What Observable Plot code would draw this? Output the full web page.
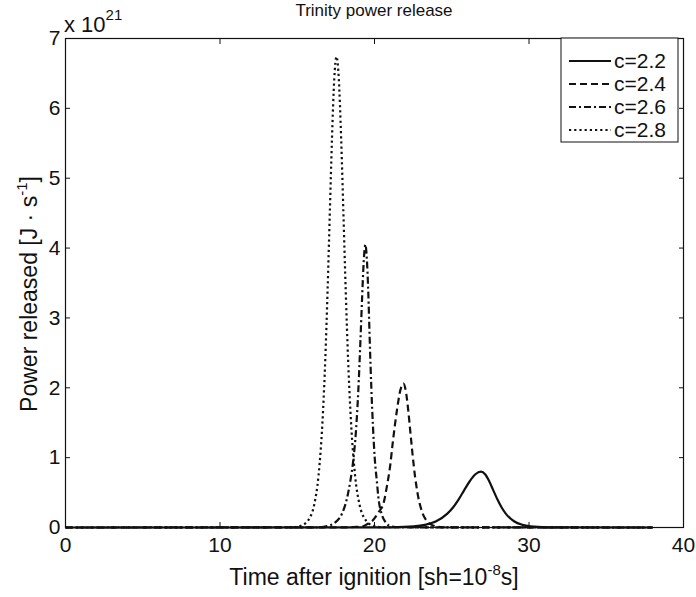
<!DOCTYPE html>
<html><head><meta charset="utf-8">
<script src="https://cdn.jsdelivr.net/npm/d3@7"></script>
<script src="https://cdn.jsdelivr.net/npm/@observablehq/plot@0.6"></script>
<style>
html,body{margin:0;padding:0;background:#fff;}
#chart{position:relative;width:696px;height:597px;}
</style></head><body><div id="chart"></div>
<script>
const seriesNames = ["c=2.2", "c=2.4", "c=2.6", "c=2.8"];
const xTicks = [0, 10, 20, 30, 40];
const yTicks = [0, 1, 2, 3, 4, 5, 6, 7];

const t22 = [0,19.64,21.09,22.54,23.265,23.99,24.715,25.08,25.44,25.80,26.165,26.53,26.89,27.16,27.425,27.69,27.96,28.23,28.495,29.03,29.565,30.1,31.17,32.24,38];
const p22 = [0,0.0005,0.003,0.016,0.038,0.089,0.199,0.286,0.40,0.532,0.662,0.762,0.80,0.762,0.662,0.532,0.40,0.286,0.199,0.089,0.038,0.016,0.003,0.0005,0];

const t24 = [0,17.87,18.67,19.3,19.47,19.87,20.27,20.6,20.81,21.0,21.2,21.47,21.67,21.87,22.02,22.17,22.32,22.47,22.62,22.77,23.07,23.37,23.67,24.27,24.87,38];
const p24 = [0,0.001,0.007,0.02,0.041,0.098,0.22,0.36,0.6,0.86,1.25,1.706,1.963,2.06,1.963,1.706,1.37,1.03,0.737,0.512,0.229,0.098,0.041,0.007,0.001,0];

const t26 = [0,16.2,16.7,17.1,17.5,17.9,18.2,18.44,18.62,18.80,18.95,19.09,19.20,19.30,19.41,19.50,19.60,19.69,19.79,19.90,20.01,20.17,20.24,20.47,20.70,21.03,21.6,38];
const p26 = [0,0.002,0.01,0.03,0.08,0.20,0.40,0.67,0.95,1.38,1.95,2.68,3.30,3.80,4.05,3.86,3.35,2.69,2.03,1.45,1.01,0.62,0.45,0.19,0.08,0.02,0.002,0];

const t28 = [0,14.64,15.22,15.80,16.09,16.38,16.67,16.815,16.96,17.105,17.25,17.395,17.54,17.69,17.84,17.99,18.14,18.29,18.44,18.74,19.04,19.34,19.94,20.54,38];
const p28 = [0,0.004,0.024,0.135,0.32,0.75,1.67,2.41,3.37,4.48,5.58,6.42,6.74,6.42,5.58,4.48,3.37,2.41,1.67,0.75,0.32,0.135,0.024,0.004,0];

const dashStyles = [null, "7,4", "7,3,2,3", "2.2,3"];
const times = [t22, t24, t26, t28];
const powers = [p22, p24, p26, p28];
const seriesData = seriesNames.map((name, k) => times[k].map((t, i) => ({s: name, t, p: powers[k][i]})));

const ink = "#111";
const font = "'Liberation Sans', Arial, Helvetica, sans-serif";

const lineMarks = seriesData.map((rows, k) => Plot.line(rows, {
  x: "t", y: "p", stroke: ink, strokeWidth: 2.2, curve: "monotone-x",
  strokeDasharray: dashStyles[k] || undefined, strokeLinecap: "butt"
}));

const plot = Plot.plot({
  width: 696, height: 597,
  marginLeft: 65, marginRight: 13, marginTop: 38, marginBottom: 70,
  style: {fontFamily: font, fontSize: "21px", color: ink, background: "white", overflow: "visible"},
  x: {domain: [0, 40]},
  y: {domain: [0, 7]},
  marks: [
    ...lineMarks,
    Plot.axisX(xTicks, {anchor: "bottom", tickSize: -5, tickPadding: 15, label: null, fontSize: 21, stroke: ink, tickFormat: d3.format("d")}),
    Plot.axisX(xTicks, {anchor: "top", tickSize: -5, tickFormat: () => "", label: null, stroke: ink}),
    Plot.axisY(yTicks, {anchor: "left", tickSize: -5, tickPadding: 10, label: null, fontSize: 21, stroke: ink, tickFormat: d3.format("d")}),
    Plot.axisY(yTicks, {anchor: "right", tickSize: -5, tickFormat: () => "", label: null, stroke: ink}),
    Plot.frame({stroke: ink, strokeWidth: 1.2})
  ]
});
document.getElementById("chart").appendChild(plot);

const svg = d3.select(plot);
const g = svg.append("g").attr("font-family", font).attr("fill", ink);

// Title
g.append("text").attr("x", 374).attr("y", 16).attr("text-anchor", "middle")
  .attr("font-size", 17).text("Trinity power release");

// Exponent
const ex = g.append("text").attr("x", 64).attr("y", 32).attr("text-anchor", "start").attr("font-size", 22);
ex.append("tspan").text("x 10");
ex.append("tspan").attr("dy", -12).attr("font-size", 15).text("21");

// X label
const xl = g.append("text").attr("x", 374).attr("y", 585).attr("text-anchor", "middle").attr("font-size", 23);
xl.append("tspan").text("Time after ignition [sh=10");
xl.append("tspan").attr("dy", -10).attr("font-size", 15).text("-8");
xl.append("tspan").attr("dy", 10).text("s]");

// Y label
const yl = g.append("text").attr("transform", "translate(37,294) rotate(-90)").attr("text-anchor", "middle").attr("font-size", 23);
yl.append("tspan").text("Power released [J \u00B7 s");
yl.append("tspan").attr("dy", -10).attr("font-size", 15).text("-1");
yl.append("tspan").attr("dy", 10).text("]");

// Legend
const lg = svg.append("g").attr("font-family", font);
lg.append("rect").attr("x", 561).attr("y", 38).attr("width", 117).attr("height", 104)
  .attr("fill", "white").attr("stroke", ink).attr("stroke-width", 1);
seriesNames.forEach((name, k) => {
  const y = 61 + k * 23;
  lg.append("line").attr("x1", 569).attr("x2", 611).attr("y1", y).attr("y2", y)
    .attr("stroke", ink).attr("stroke-width", 2.2)
    .attr("stroke-dasharray", dashStyles[k] || null);
  lg.append("text").attr("x", 614).attr("y", y + 7).attr("text-anchor", "start")
    .attr("font-size", 21).attr("fill", ink).text(name);
});
</script></body></html>
